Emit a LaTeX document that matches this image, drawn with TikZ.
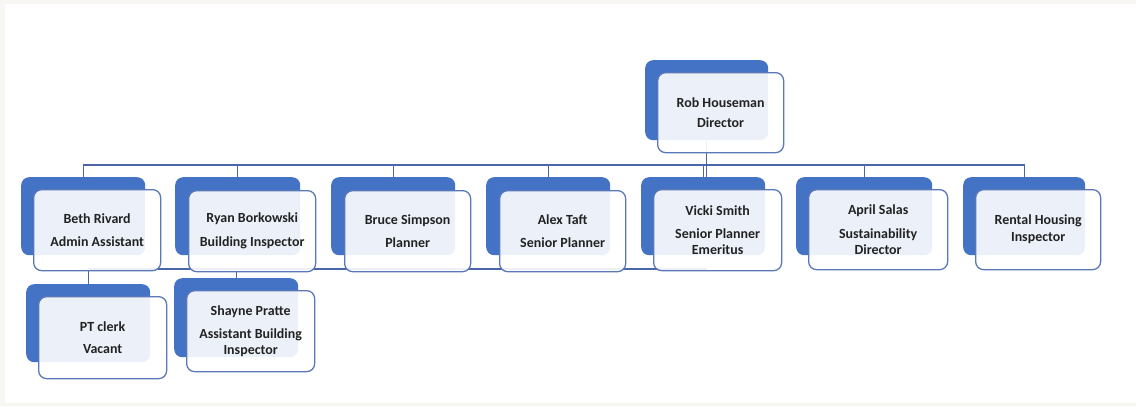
\documentclass[tikz,border=0pt]{standalone}
\usepackage{fontspec}
\setmainfont{Carlito}
\usetikzlibrary{calc,backgrounds}
\definecolor{cblue}{HTML}{4472C4}
\definecolor{cline}{HTML}{4A66A8}
\definecolor{cedge}{HTML}{5A78B8}
\definecolor{ctext}{HTML}{222222}
\definecolor{cframe}{HTML}{F8F6F2}
\newcommand\card[9]{%
  \node[backbox, minimum width=#4bp, minimum height=#5bp] (#1B) at (#2,#3) {};
  \node[frontbox, minimum width=#6bp, minimum height=#7bp] (#1F) at ($(#2,#3)+(#8,#8)$) {#9};
}
\begin{document}
\begin{tikzpicture}[x=1bp,y=-1bp,
  backbox/.style={anchor=north west, fill=cblue, draw=none, rounded corners=8bp, inner sep=0pt},
  frontbox/.style={anchor=north west, fill=white, fill opacity=0.9, text opacity=1,
     draw=cedge, line width=1.3bp, rounded corners=8bp, inner sep=0pt,
     align=center, text=ctext, font=\fontsize{14}{16}\selectfont\bfseries},
  conn/.style={draw=cline, line width=1.4bp}]
\useasboundingbox (0,0) rectangle (1136,406);
% cards
\card{dir}{645}{60}{123}{80}{126}{80}{12}{Rob Houseman\\[5bp]Director}
\card{beth}{21}{177}{124}{78}{127}{81}{12}{Beth Rivard\\[8bp]Admin Assistant}
\card{ryan}{175}{177}{125}{78}{127}{81}{13}{Ryan Borkowski\\[8bp]Building Inspector}
\card{bruce}{331}{177}{124}{78}{126}{81}{13}{Bruce Simpson\\[7bp]Planner}
\card{alex}{486}{177}{124}{78}{126}{81}{13}{Alex Taft\\[7bp]Senior Planner}
\card{vicki}{641}{177}{124}{78}{128}{81}{12}{Vicki Smith\\[7bp]Senior Planner\\Emeritus}
\card{april}{796}{177}{136}{78}{139}{80}{12}{April Salas\\[8bp]Sustainability\\Director}
\card{rent}{963}{177}{122}{78}{125}{80}{12}{Rental Housing\\[1bp]Inspector}
\card{pt}{26}{284}{124}{78}{128}{82}{12}{PT clerk\\[7bp]Vacant}
\card{shay}{174}{278}{124}{79}{128}{81}{12}{Shayne Pratte\\[7bp]Assistant Building\\Inspector}
\begin{scope}[on background layer]
\fill[cframe] (0,0) rectangle (1136,406);
\fill[white] (5,4) rectangle (1136,403);
\coordinate (busy) at (0,165);
\coordinate (lowy) at (0,269);
\draw[conn] (bethB.north) -- (bethB.north |- busy) -- (rentB.north |- busy) -- (rentB.north);
\draw[conn] (dirB.south) -- (dirB.south |- busy) -- ++(0,12);
\draw[conn, line width=2.6bp] (dirB.south |- busy) -- (aprilB.north |- busy);
\foreach \n in {ryanB,bruceB,alexB,vickiB,aprilB}
  \draw[conn] (\n.north) -- (\n.north |- busy);
\draw[conn] (ptB.north |- lowy) -- (dirB.south |- lowy);
\draw[conn] (ptB.north |- lowy) -- (ptB.north);
\draw[conn] (shayB.north |- lowy) -- (shayB.north);
\end{scope}
\end{tikzpicture}
\end{document}
